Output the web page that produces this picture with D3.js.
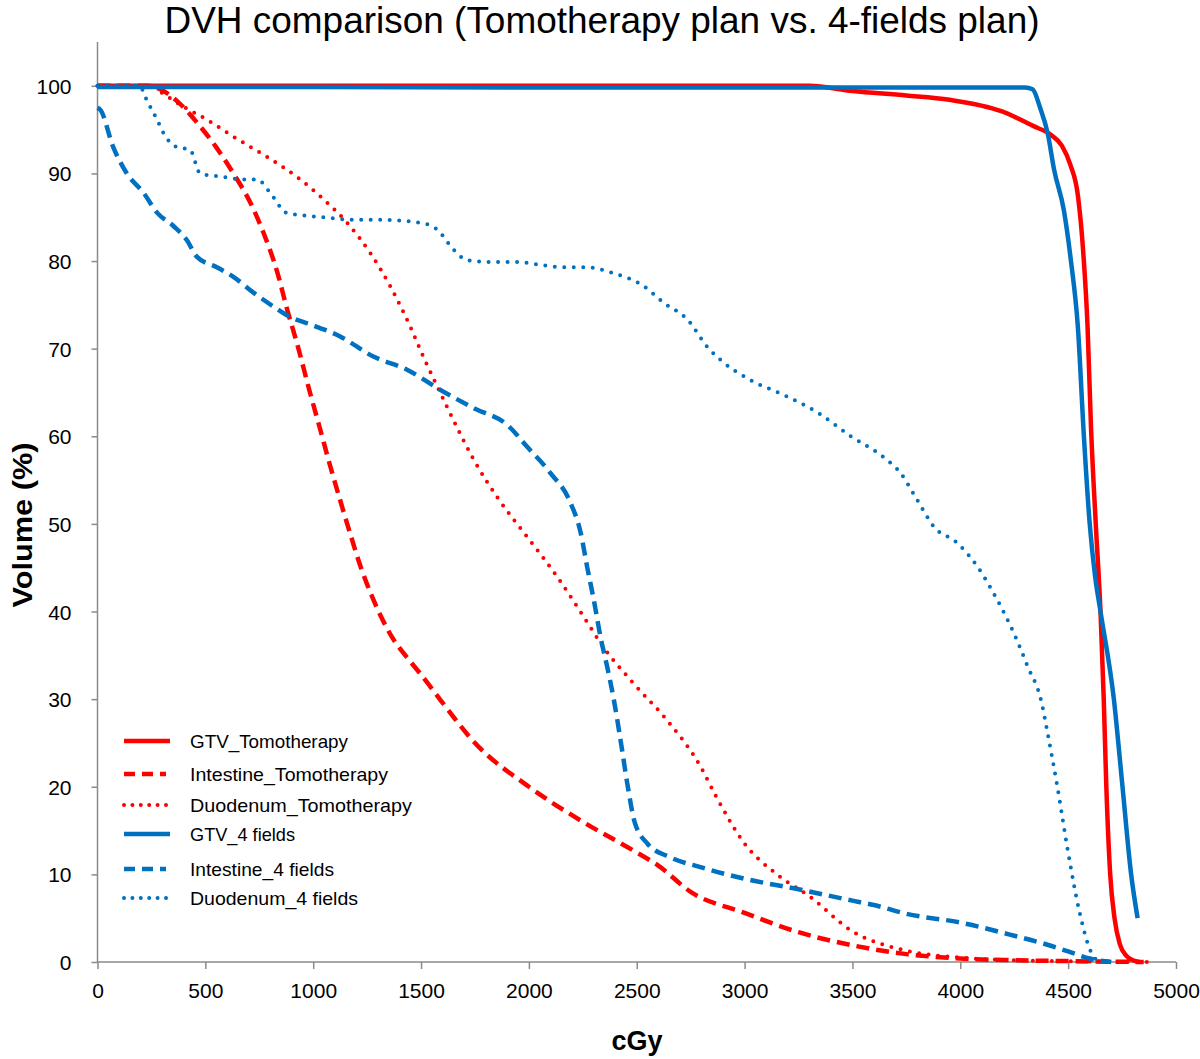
<!DOCTYPE html>
<html><head><meta charset="utf-8">
<script src="https://cdn.jsdelivr.net/npm/d3@7"></script>
<style>body{margin:0;background:#fff}svg{display:block}text{font-family:"Liberation Sans",Arial,sans-serif}</style>
</head><body><svg id="c" width="1200" height="1059"></svg>
<script>
const seriesNames = ["GTV_Tomotherapy","Intestine_Tomotherapy","Duodenum_Tomotherapy","GTV_4 fields","Intestine_4 fields","Duodenum_4 fields"];
const xTicks = [0,500,1000,1500,2000,2500,3000,3500,4000,4500,5000];
const yTicks = [0,10,20,30,40,50,60,70,80,90,100];

const gtvTomoDose = [0,500,1000,2000,3000,3300,3500,3750,3950,4190,4340,4420,4470,4510,4545,4570,4590,4606,4628,4650,4665,4677,4695,4715,4740,4770,4800,4830];
const gtvTomoVol  = [100,100,100,100,100,100,99.4,98.9,98.4,97.1,95.4,94.4,93.2,91,87.5,81,72.5,61,50,40,30,20,10,5,2,0.7,0.2,0];

const intTomoDose = [0,230,320,380,475,550,630,710,770,835,880,925,985,1030,1080,1125,1170,1220,1280,1360,1450,1500,1590,1750,2000,2250,2500,2600,2750,3000,3250,3500,3750,4000,4250,4500,4850];
const intTomoVol  = [100,100,99.2,98,95.4,93,90,86.6,83.2,78.6,74.4,70.6,65,61,56.5,52.7,49,45.1,41.3,37.3,34.3,32.8,29.9,25,20,16,12.5,11,8,5.6,3.4,1.9,0.9,0.4,0.2,0.1,0];

const duoTomoDose = [0,250,280,400,510,630,785,925,1050,1160,1265,1360,1450,1512,1575,1667,1745,1860,1977,2130,2285,2332,2485,2640,2796,2870,3000,3150,3300,3500,3750,4000,4250,4500,4900];
const duoTomoVol  = [100,100,99.5,97.6,96.1,94.2,91.9,89.6,87,84.3,80.9,77,72.5,69,65.7,61,57.3,52.8,49,44,38.2,36.4,31.8,27.6,22.3,18.8,13.5,10,7.5,3.5,1.3,0.5,0.2,0.1,0];

const gtv4Dose = [0,1000,2000,3000,3500,4000,4300,4335,4370,4405,4435,4480,4513,4545,4573,4600,4625,4650,4712,4752,4792,4822];
const gtv4Vol  = [99.85,99.85,99.8,99.8,99.8,99.8,99.8,99.6,97.5,94.6,90.4,85.8,80,72.5,60,50,44,40,30,20,10,5];

const int4Dose = [0,12,73,136,213,277,352,414,460,553,630,723,816,893,971,1125,1279,1435,1589,1745,1900,1992,2100,2193,2240,2270,2301,2332,2363,2394,2425,2456,2490,2550,2650,2800,3000,3250,3500,3600,3750,4000,4250,4400,4500,4600,4700];
const int4Vol  = [97.5,97.3,93,90,87.8,85.5,84,82.4,80.5,79.3,78.2,76.4,74.8,73.6,72.9,71.4,69.1,67.6,65.3,63.2,61.3,58.8,55.8,52.4,49,45.1,41.3,37.1,33.7,29.9,25.3,20.4,16,13.5,12,10.8,9.5,8.3,7,6.5,5.5,4.5,3,2,1.2,0.4,0];

const duo4Dose = [0,200,213,277,306,368,429,476,584,677,741,800,878,1048,1203,1327,1512,1574,1651,1713,1821,1930,2160,2255,2394,2534,2627,2736,2827,2889,3028,3183,3339,3492,3645,3723,3801,3877,3987,4080,4172,4249,4313,4374,4411,4450,4500,4550,4600,4640];
const duo4Vol  = [100,100,99.2,96.1,94.6,93,92.7,90,89.6,89.3,89.3,87.8,85.5,85,84.7,84.7,84.3,83.6,81.3,80.1,79.9,79.9,79.3,79.3,78.6,77.1,75.2,73.3,70.2,68.7,66.4,64.7,62.7,60,57.6,55.8,52.7,49.7,47.8,45.1,41.3,37.5,33.7,29.9,25.3,20,12.5,6,1.5,0];

const doses = [gtvTomoDose,intTomoDose,duoTomoDose,gtv4Dose,int4Dose,duo4Dose];
const vols  = [gtvTomoVol,intTomoVol,duoTomoVol,gtv4Vol,int4Vol,duo4Vol];
const colors = ["#ff0000","#ff0000","#ff0000","#0070c0","#0070c0","#0070c0"];
const styles = ["solid","dash","dot","solid","dash","dot"];

const svg = d3.select("#c");
const x = d3.scaleLinear().domain([0,5000]).range([97.5,1176]);
const y = d3.scaleLinear().domain([0,105]).range([962,42]);
const axisColor = "#8a8a8a";

// title
svg.append("text").attr("x",602).attr("y",33).attr("text-anchor","middle")
  .attr("font-size",37).attr("fill","#000").attr("textLength",875).attr("lengthAdjust","spacingAndGlyphs")
  .text("DVH comparison (Tomotherapy plan vs. 4-fields plan)");

// axes
const gx = svg.append("g").attr("transform","translate(0,962)")
  .call(d3.axisBottom(x).tickValues(xTicks).tickSize(7).tickFormat(d3.format("d")));
const gy = svg.append("g").attr("transform","translate(97.5,0)")
  .call(d3.axisLeft(y).tickValues(yTicks).tickSize(6).tickFormat(d3.format("d")));
[gx,gy].forEach(g=>{
  g.selectAll("path.domain").remove();
  g.selectAll("line").attr("stroke",axisColor).attr("stroke-width",1.5);
  g.selectAll("text").attr("font-size",21).attr("fill","#000").attr("font-family","Liberation Sans, Arial, sans-serif");
});
gx.selectAll("text").attr("dy",null).attr("y",36);
gy.selectAll("text").attr("x",-26).attr("dy","0.36em");
svg.append("line").attr("x1",97.5).attr("x2",97.5).attr("y1",42).attr("y2",962).attr("stroke",axisColor).attr("stroke-width",1.5);
svg.append("line").attr("x1",97.5).attr("x2",1176).attr("y1",962).attr("y2",962).attr("stroke",axisColor).attr("stroke-width",1.5);

// axis titles
svg.append("text").attr("x",637).attr("y",1050).attr("text-anchor","middle").attr("font-size",27).attr("font-weight","bold").text("cGy");
svg.append("text").attr("transform","translate(32,525) rotate(-90)").attr("text-anchor","middle")
  .attr("font-size",27).attr("font-weight","bold").attr("textLength",165).attr("lengthAdjust","spacingAndGlyphs").text("Volume (%)");

// lines
const line = d3.line().x(d=>x(d[0])).y(d=>y(d[1])).curve(d3.curveMonotoneX);
function styleLine(sel, st, legend){
  sel.attr("fill","none");
  if(st==="solid"){ sel.attr("stroke-width",4.5); }
  else if(st==="dash"){ sel.attr("stroke-width",4.5).attr("stroke-dasharray", legend?"11,7":"13,7"); }
  else { sel.attr("stroke-width",4).attr("stroke-linecap","round").attr("stroke-dasharray", legend?"0,8.4":"0,9.5"); }
}
const plot = svg.append("g");
seriesNames.forEach((n,i)=>{
  const pts = doses[i].map((d,j)=>[d,vols[i][j]]);
  const p = plot.append("path").datum(pts).attr("d",line).attr("stroke",colors[i]);
  styleLine(p, styles[i], false);
});

// legend
const legY = [741,774,805,834,869,898];
const legW = [158,198,222,105,144,168];
const leg = svg.append("g");
seriesNames.forEach((n,i)=>{
  const l = leg.append("line").attr("x1",124).attr("x2",styles[i]==="solid"?170:166).attr("y1",legY[i]).attr("y2",legY[i]).attr("stroke",colors[i]);
  styleLine(l, styles[i], true);
  leg.append("text").attr("x",190).attr("y",legY[i]).attr("dy","0.36em").attr("font-size",19)
    .attr("textLength",legW[i]).attr("lengthAdjust","spacingAndGlyphs").text(n);
});
</script></body></html>
